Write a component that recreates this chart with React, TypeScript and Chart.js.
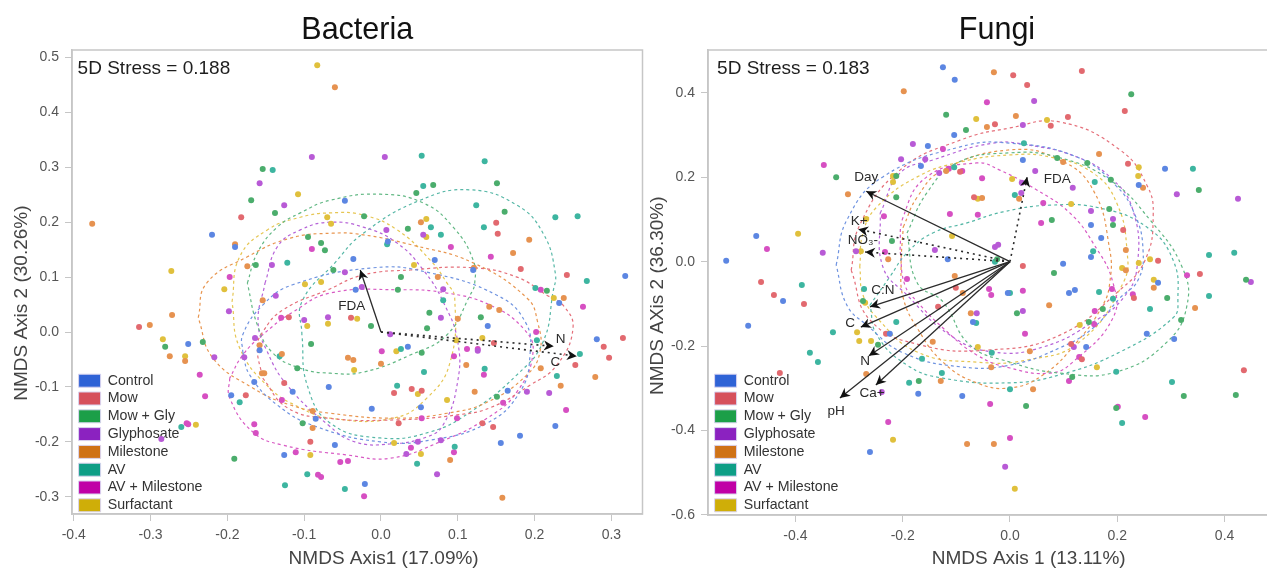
import React, { useEffect, useRef } from "react";
import { Chart, registerables } from "chart.js";

Chart.register(...registerables);

type P = number[];

const groupNames = ["Control", "Mow", "Mow + Gly", "Glyphosate", "Milestone", "AV", "AV + Milestone", "Surfactant"];
const legendColors = ["#2f63d6", "#d6505c", "#1c9f48", "#8b22c0", "#cf7216", "#0e9e86", "#c000a6", "#cfae08"];
const dotColors = ["#5c86e2", "#e2696f", "#4bad6c", "#b85ad6", "#e69250", "#3db5a0", "#d64fc2", "#e0c03c"];
const ringColors = ["#6f93e0", "#e56f7a", "#62b884", "#b663d8", "#e8954f", "#55b7a6", "#d85ac4", "#e6c653"];

const bacteriaControl: P[] = [[-0.22,0.177],[-0.19,0.155],[0.009,0.165],[-0.036,0.133],[0.07,0.131],[0.12,0.113],[0.318,0.102],[-0.047,0.239],[-0.251,-0.022],[-0.158,-0.033],[-0.165,-0.091],[-0.115,-0.109],[-0.195,-0.115],[-0.068,-0.1],[-0.085,-0.158],[-0.126,-0.224],[-0.033,0.077],[0.232,0.053],[0.139,0.011],[0.281,-0.013],[0.165,-0.107],[0.227,-0.171],[0.181,-0.189],[0.156,-0.202],[0.035,-0.027],[0.052,-0.137],[-0.012,-0.14],[-0.021,-0.277],[-0.06,-0.206]];
const bacteriaMow: P[] = [[-0.182,0.209],[0.15,0.199],[0.152,0.179],[0.182,0.115],[0.242,0.104],[-0.315,0.009],[-0.12,0.027],[-0.126,-0.093],[-0.176,-0.115],[-0.092,-0.2],[-0.039,0.026],[0.315,-0.011],[0.29,-0.027],[0.297,-0.047],[0.253,-0.06],[0.146,-0.173],[0.132,-0.166],[0.147,-0.02],[0.017,-0.111],[0.04,-0.104],[0.053,-0.107],[0.023,-0.166]];
const bacteriaMowGly: P[] = [[-0.154,0.297],[-0.169,0.24],[-0.138,0.217],[-0.095,0.173],[-0.078,0.162],[-0.073,0.149],[-0.163,0.122],[0.068,0.268],[0.151,0.271],[0.046,0.253],[0.161,0.219],[-0.022,0.211],[0.035,0.188],[-0.062,0.113],[0.026,0.1],[-0.281,-0.027],[-0.232,-0.018],[-0.191,-0.231],[-0.091,-0.022],[-0.109,-0.066],[-0.102,-0.166],[0.022,0.077],[0.13,0.027],[0.216,0.075],[0.063,0.035],[0.06,0.007],[-0.013,0.011],[0.151,-0.118],[0.053,-0.038]];
const bacteriaGlyphosate: P[] = [[-0.09,0.319],[-0.158,0.271],[-0.126,0.231],[-0.142,0.122],[0.005,0.319],[0.007,0.186],[0.055,0.177],[-0.047,0.109],[-0.137,0.066],[-0.198,0.038],[-0.1,0.022],[-0.069,0.027],[-0.164,-0.011],[-0.178,-0.046],[-0.217,-0.046],[-0.286,-0.195],[-0.025,0.082],[0.081,0.078],[0.078,0.026],[0.012,-0.004],[0.19,-0.109],[0.219,-0.111],[0.126,-0.034],[0.078,-0.197],[0.048,-0.2],[0.033,-0.222],[0.073,-0.259]];
const bacteriaMilestone: P[] = [[-0.376,0.197],[-0.06,0.446],[-0.19,0.16],[-0.174,0.12],[0.052,0.2],[0.193,0.168],[0.172,0.144],[0.121,0.117],[0.074,0.1],[-0.272,0.031],[-0.301,0.013],[-0.275,-0.044],[-0.255,-0.053],[-0.154,0.058],[-0.158,-0.024],[-0.129,-0.04],[-0.155,-0.075],[-0.152,-0.075],[-0.089,-0.144],[-0.089,-0.175],[0.141,0.046],[0.154,0.04],[0.238,0.062],[0.1,0.024],[0.279,-0.082],[0.208,-0.066],[0.234,-0.098],[0.122,-0.109],[0.111,-0.06],[0,-0.058],[-0.043,-0.047],[-0.036,-0.051],[0.09,-0.233],[0.158,-0.302]];
const bacteriaAV: P[] = [[-0.141,0.295],[-0.122,0.126],[0.053,0.321],[0.135,0.311],[0.055,0.266],[0.124,0.231],[0.227,0.209],[0.256,0.211],[0.065,0.191],[0.134,0.191],[0.008,0.16],[0.078,0.177],[0.268,0.093],[-0.26,-0.173],[-0.132,-0.044],[-0.184,-0.128],[-0.096,-0.259],[-0.125,-0.279],[0.081,0.058],[0.201,0.08],[0.203,-0.015],[0.259,-0.04],[0.229,-0.08],[0.135,-0.067],[0.026,-0.031],[0.056,-0.073],[0.021,-0.098],[0.096,-0.209],[0.047,-0.24],[-0.047,-0.286]];
const bacteriaAVMilestone: P[] = [[-0.09,0.151],[-0.197,0.1],[0.091,0.155],[0.143,0.137],[-0.13,0.026],[-0.236,-0.078],[-0.229,-0.117],[-0.253,-0.166],[-0.251,-0.168],[-0.129,-0.124],[-0.165,-0.168],[-0.163,-0.184],[-0.111,-0.219],[-0.082,-0.26],[-0.078,-0.264],[0.208,0.077],[0.263,0.046],[0.202,0],[0.241,-0.142],[0.159,-0.129],[0.134,-0.078],[0.112,-0.031],[0.126,-0.031],[0.095,-0.044],[0.001,-0.035],[0.053,-0.157],[0.099,-0.157],[0.039,-0.211],[0.095,-0.219],[-0.053,-0.237],[-0.043,-0.235],[-0.022,-0.299]];
const bacteriaSurfactant: P[] = [[-0.083,0.486],[-0.108,0.251],[-0.07,0.209],[-0.273,0.111],[-0.078,0.091],[-0.099,0.087],[-0.065,0.197],[0.059,0.206],[0.059,0.173],[0.043,0.122],[-0.284,-0.013],[-0.255,-0.044],[-0.241,-0.169],[-0.204,0.078],[-0.096,0.011],[-0.069,0.015],[-0.092,-0.224],[0.225,0.062],[-0.031,0.024],[0.132,-0.011],[0.098,-0.015],[0.02,-0.035],[-0.035,-0.069],[0.048,-0.113],[0.086,-0.124],[0.017,-0.202],[0.052,-0.222]];

const fungiControl: P[] = [[-0.125,0.461],[-0.103,0.431],[-0.104,0.3],[-0.153,0.274],[-0.166,0.227],[-0.473,0.061],[-0.529,0.002],[-0.116,0.006],[0.024,0.241],[0.289,0.22],[0.24,0.182],[0.151,0.087],[0.17,0.056],[0.151,0.011],[0.099,-0.005],[0.276,-0.05],[-0.423,-0.093],[-0.488,-0.152],[-0.224,-0.171],[-0.171,-0.313],[-0.089,-0.318],[-0.261,-0.451],[-0.004,-0.074],[0.11,-0.074],[0.121,-0.067],[-0.069,-0.143],[0.255,-0.171],[0.306,-0.183],[0.142,-0.202]];
const fungiMow: P[] = [[-0.093,0.213],[0.006,0.442],[0.032,0.419],[0.134,0.452],[0.214,0.357],[0.108,0.343],[0.076,0.322],[-0.028,0.326],[0.22,0.232],[-0.067,0.153],[0.211,0.075],[0.276,0.002],[0.024,-0.01],[0.354,-0.029],[-0.464,-0.048],[-0.44,-0.079],[-0.384,-0.1],[-0.429,-0.264],[-0.231,-0.171],[-0.134,-0.107],[-0.101,-0.062],[0.231,-0.086],[0.114,-0.195],[0.134,-0.231],[0.436,-0.257]];
const fungiMowGly: P[] = [[-0.119,0.348],[-0.082,0.312],[-0.324,0.2],[-0.212,0.203],[-0.212,0.153],[-0.22,0.049],[0.226,0.397],[0.088,0.246],[0.144,0.234],[0.188,0.194],[0.352,0.17],[0.185,0.125],[0.078,0.099],[0.192,0.087],[-0.024,0.006],[0.082,-0.027],[0.44,-0.043],[-0.274,-0.093],[-0.246,-0.197],[-0.17,-0.283],[0.293,-0.086],[0.013,-0.122],[0.173,-0.112],[0.319,-0.138],[0.147,-0.143],[0.116,-0.273],[0.324,-0.318],[0.421,-0.316],[0.03,-0.342],[0.198,-0.347]];
const fungiGlyphosate: P[] = [[-0.181,0.279],[-0.203,0.243],[-0.158,0.243],[-0.132,0.21],[-0.349,0.021],[-0.287,0.025],[-0.14,0.028],[0.024,0.324],[0.045,0.381],[0.047,0.215],[0.022,0.187],[0.021,0.163],[0.117,0.175],[0.311,0.16],[0.425,0.149],[0.151,0.12],[0.192,0.101],[-0.028,0.035],[-0.022,0.04],[0.449,-0.048],[-0.239,-0.309],[0.024,-0.117],[-0.062,-0.122],[0.119,-0.202],[-0.009,-0.486]];
const fungiMilestone: P[] = [[-0.198,0.404],[-0.119,0.215],[-0.302,0.16],[-0.227,0.006],[-0.103,-0.034],[-0.03,0.449],[0.011,0.345],[-0.043,0.319],[0.166,0.255],[0.099,0.236],[0.248,0.175],[0.017,0.149],[-0.052,0.151],[0.216,0.028],[0.216,-0.02],[-0.088,-0.074],[-0.144,-0.19],[-0.129,-0.283],[-0.268,-0.266],[-0.08,-0.432],[0.268,-0.062],[0.345,-0.11],[0.073,-0.103],[-0.073,-0.122],[0.037,-0.212],[-0.035,-0.25],[0.043,-0.302],[-0.03,-0.432]];
const fungiAV: P[] = [[-0.104,0.224],[-0.388,-0.055],[0.026,0.281],[0.341,0.22],[0.158,0.189],[0.009,0.158],[0.155,0.025],[0.371,0.016],[0.418,0.021],[-0.272,-0.065],[-0.33,-0.167],[-0.373,-0.216],[-0.358,-0.238],[-0.212,-0.143],[-0.164,-0.23],[-0.127,-0.264],[-0.188,-0.287],[0,-0.074],[0.166,-0.072],[0.192,-0.088],[0.371,-0.081],[0.261,-0.112],[-0.063,-0.145],[-0.034,-0.216],[0.198,-0.261],[0.302,-0.285],[0,-0.302],[0.209,-0.382],[-0.028,0]];
const fungiAVMilestone: P[] = [[-0.125,0.267],[-0.347,0.229],[-0.114,0.22],[-0.089,0.215],[-0.235,0.108],[-0.112,0.113],[-0.453,0.03],[-0.233,0.023],[-0.192,-0.041],[-0.043,0.378],[-0.052,0.198],[0.062,0.139],[-0.06,0.111],[0.058,0.092],[0.33,-0.032],[-0.227,-0.38],[-0.039,-0.065],[-0.035,-0.079],[0.024,-0.069],[0.19,-0.065],[0.229,-0.077],[0.158,-0.117],[0.157,-0.148],[0.028,-0.171],[0.129,-0.226],[0.11,-0.283],[-0.037,-0.337],[0.201,-0.344],[0.252,-0.368],[0,-0.418]];
const fungiSurfactant: P[] = [[-0.218,0.203],[-0.218,0.189],[-0.268,0.101],[-0.395,0.066],[-0.278,0.025],[-0.108,0.061],[-0.063,0.338],[0.069,0.336],[0.24,0.224],[0.239,0.203],[0.004,0.196],[-0.06,0.149],[0.114,0.137],[0.261,0.006],[0.24,-0.003],[0.209,-0.015],[0.268,-0.043],[-0.27,-0.097],[-0.285,-0.167],[-0.281,-0.188],[-0.259,-0.188],[-0.218,-0.422],[0.13,-0.15],[-0.06,-0.202],[0.162,-0.25],[0.009,-0.538]];

// Outlines of the dashed group ellipses.
const bacteriaRingControl: P[] = [[-0.18,-0.036],[-0.171,-0.078],[-0.135,-0.133],[-0.083,-0.173],[-0.001,-0.2],[0.064,-0.197],[0.138,-0.166],[0.181,-0.109],[0.194,-0.042],[0.188,0.018],[0.151,0.067],[0.06,0.109],[-0.01,0.117],[-0.115,0.086],[-0.154,0.049],[-0.18,-0.005]];
const bacteriaRingMow: P[] = [[-0.154,-0.084],[-0.122,-0.138],[-0.069,-0.157],[0.021,-0.16],[0.099,-0.151],[0.142,-0.138],[0.194,-0.097],[0.229,-0.06],[0.25,0.007],[0.237,0.049],[0.216,0.067],[0.177,0.1],[0.12,0.117],[0.038,0.113],[-0.023,0.104],[-0.069,0.077],[-0.128,0.04],[-0.154,0],[-0.161,-0.029]];
const bacteriaRingMowGly: P[] = [[-0.174,0.089],[-0.161,0.144],[-0.135,0.191],[-0.105,0.217],[-0.066,0.24],[-0.001,0.251],[0.055,0.235],[0.094,0.191],[0.12,0.131],[0.122,0.089],[0.116,0.067],[0.086,-0.005],[0.038,-0.042],[-0.023,-0.073],[-0.066,-0.075],[-0.105,-0.066],[-0.141,-0.038],[-0.161,0.013]];
const bacteriaRingGlyphosate: P[] = [[-0.151,0.089],[-0.135,0.155],[-0.105,0.186],[-0.066,0.2],[-0.023,0.191],[0.021,0.162],[0.055,0.113],[0.081,0.055],[0.1,-0.018],[0.099,-0.097],[0.081,-0.169],[0.06,-0.191],[0.012,-0.204],[-0.034,-0.2],[-0.069,-0.169],[-0.122,-0.097],[-0.148,-0.036],[-0.16,0.018]];
const bacteriaRingMilestone: P[] = [[-0.238,0.026],[-0.227,0.089],[-0.174,0.137],[-0.118,0.171],[-0.063,0.18],[-0.023,0.177],[0.042,0.158],[0.12,0.126],[0.19,0.062],[0.204,0.018],[0.207,-0.036],[0.19,-0.078],[0.138,-0.128],[0.086,-0.148],[0.021,-0.157],[-0.066,-0.148],[-0.118,-0.133],[-0.167,-0.102],[-0.219,-0.047]];
const bacteriaRingAV: P[] = [[-0.103,-0.005],[-0.103,0.055],[-0.06,0.126],[-0.023,0.18],[0.051,0.24],[0.116,0.259],[0.177,0.231],[0.211,0.18],[0.227,0.107],[0.224,0.073],[0.211,-0.018],[0.177,-0.078],[0.116,-0.146],[0.064,-0.182],[-0.001,-0.193],[-0.066,-0.166],[-0.096,-0.097]];
const bacteriaRingAVMilestone: P[] = [[-0.197,-0.084],[-0.197,-0.12],[-0.167,-0.182],[-0.128,-0.206],[-0.044,-0.224],[0.012,-0.23],[0.077,-0.2],[0.138,-0.157],[0.177,-0.109],[0.198,-0.036],[0.185,0.007],[0.142,0.049],[0.086,0.071],[0.021,0.077],[-0.066,0.071],[-0.115,0.036],[-0.154,-0.005],[-0.18,-0.042]];
const bacteriaRingSurfactant: P[] = [[-0.194,0.055],[-0.184,0.137],[-0.148,0.186],[-0.105,0.209],[-0.066,0.217],[-0.023,0.213],[0.021,0.186],[0.064,0.131],[0.086,0.089],[0.096,0.062],[0.09,-0.055],[0.06,-0.12],[0.016,-0.157],[-0.066,-0.157],[-0.105,-0.138],[-0.145,-0.102],[-0.184,-0.029]];

const fungiRingControl: P[] = [[-0.324,-0.008],[-0.304,0.099],[-0.237,0.201],[-0.093,0.272],[0,0.281],[0.125,0.248],[0.196,0.182],[0.233,0.111],[0.248,0.028],[0.239,-0.043],[0.205,-0.086],[0.155,-0.157],[0.093,-0.204],[0,-0.245],[-0.093,-0.249],[-0.199,-0.216],[-0.267,-0.15],[-0.304,-0.103]];
const fungiRingMow: P[] = [[-0.296,-0.02],[-0.28,0.087],[-0.205,0.217],[-0.093,0.288],[0,0.317],[0.093,0.331],[0.205,0.265],[0.255,0.182],[0.267,0.111],[0.252,0.004],[0.205,-0.067],[0.093,-0.174],[-0.037,-0.209],[-0.168,-0.197],[-0.261,-0.138]];
const fungiRingMowGly: P[] = [[-0.192,0.068],[-0.155,0.163],[-0.099,0.234],[0,0.258],[0.088,0.248],[0.186,0.194],[0.261,0.099],[0.321,-0.013],[0.33,-0.103],[0.293,-0.19],[0.199,-0.261],[0.093,-0.264],[0,-0.238],[-0.075,-0.197],[-0.125,-0.095],[-0.173,-0.05]];
const fungiRingGlyphosate: P[] = [[-0.242,0.115],[-0.205,0.21],[-0.144,0.241],[-0.032,0.281],[0.032,0.277],[0.125,0.248],[0.186,0.201],[0.229,0.123],[0.237,-0.012],[0.211,-0.086],[0.155,-0.143],[0.062,-0.202],[-0.032,-0.214],[-0.112,-0.174],[-0.192,-0.079],[-0.237,-0.012]];
const fungiRingMilestone: P[] = [[-0.199,0.082],[-0.173,0.153],[-0.125,0.217],[0,0.265],[0.093,0.241],[0.155,0.17],[0.186,0.028],[0.186,-0.05],[0.173,-0.103],[0.125,-0.19],[0.062,-0.268],[0,-0.299],[-0.062,-0.287],[-0.125,-0.238],[-0.173,-0.157],[-0.199,-0.086],[-0.203,-0.012]];
const fungiRingAV: P[] = [[-0.261,-0.103],[-0.224,-0.036],[-0.192,0.021],[-0.144,0.068],[-0.08,0.092],[-0.013,0.118],[0.075,0.134],[0.168,0.127],[0.255,0.082],[0.304,0.004],[0.313,-0.091],[0.304,-0.133],[0.205,-0.214],[0.093,-0.268],[0,-0.287],[-0.125,-0.276],[-0.192,-0.245],[-0.248,-0.174]];
const fungiRingAVMilestone: P[] = [[-0.205,0.028],[-0.199,0.106],[-0.155,0.201],[-0.062,0.234],[-0.019,0.217],[0.05,0.17],[0.112,0.115],[0.155,0.044],[0.192,-0.05],[0.192,-0.133],[0.117,-0.238],[0.075,-0.264],[0,-0.252],[-0.062,-0.221],[-0.125,-0.157],[-0.173,-0.095],[-0.196,-0.055]];
const fungiRingSurfactant: P[] = [[-0.28,-0.012],[-0.274,0.068],[-0.248,0.13],[-0.173,0.201],[-0.093,0.236],[0,0.253],[0.075,0.248],[0.155,0.21],[0.199,0.139],[0.218,0.028],[0.211,-0.05],[0.13,-0.19],[0.032,-0.233],[-0.062,-0.238],[-0.173,-0.214],[-0.248,-0.133],[-0.274,-0.079]];

// Fitted vectors: name, tip x, tip y, dotted?, label x, label y
type Vec = [string, number, number, boolean, number, number];
const bacteriaVectors: Vec[] = [
  ["FDA", -0.027, 0.113, false, -0.038, 0.047],
  ["N", 0.225, -0.026, true, 0.234, -0.013],
  ["C", 0.255, -0.044, true, 0.227, -0.056],
];
const fungiVectors: Vec[] = [
  ["Day", -0.268, 0.167, false, -0.268, 0.201],
  ["K+", -0.283, 0.077, true, -0.281, 0.096],
  ["NO₃-", -0.27, 0.023, true, -0.274, 0.051],
  ["C:N", -0.261, -0.107, false, -0.237, -0.067],
  ["C", -0.278, -0.155, false, -0.298, -0.145],
  ["N", -0.263, -0.223, false, -0.27, -0.235],
  ["pH", -0.317, -0.323, false, -0.324, -0.354],
  ["Ca+", -0.25, -0.292, false, -0.257, -0.313],
  ["FDA", 0.032, 0.201, true, 0.088, 0.196],
];

const FONT = "'Liberation Sans', Arial, sans-serif";

const annotate = {
  id: "annotate",
  afterLayout(chart: any) {
    const { legend, titleBlock, chartArea: a } = chart;
    titleBlock.left = a.left;
    titleBlock.right = a.right;
    legend.left = a.left + 3;
    legend.right = a.right;
    legend.top = a.top + chart.options.plugins.annotate.legendTop;
    legend.bottom = a.bottom + 60;
  },
  afterDatasetsDraw(chart: any) {
    const o = chart.options.plugins.annotate;
    const { ctx, chartArea: a, scales } = chart;
    ctx.save();
    ctx.strokeStyle = "#c6c6c6";
    ctx.lineWidth = 1.5;
    ctx.strokeRect(a.left, a.top, a.right - a.left, a.bottom - a.top);
    ctx.textBaseline = "middle";
    for (const v of o.vectors as Vec[]) {
      const x0 = scales.x.getPixelForValue(0);
      const y0 = scales.y.getPixelForValue(0);
      const x1 = scales.x.getPixelForValue(v[1]);
      const y1 = scales.y.getPixelForValue(v[2]);
      const ang = Math.atan2(y1 - y0, x1 - x0);
      ctx.save();
      ctx.translate(x1, y1);
      ctx.rotate(ang);
      ctx.fillStyle = "#111";
      ctx.beginPath();
      ctx.moveTo(0, 0);
      ctx.lineTo(-10, -5);
      ctx.lineTo(-7, 0);
      ctx.lineTo(-10, 5);
      ctx.closePath();
      ctx.fill();
      ctx.restore();
      ctx.fillStyle = "#2a2a2a";
      ctx.font = `13.5px ${FONT}`;
      ctx.textAlign = "center";
      ctx.fillText(v[0], scales.x.getPixelForValue(v[4]), scales.y.getPixelForValue(v[5]));
    }
    ctx.fillStyle = "#1e1e1e";
    ctx.font = `19px ${FONT}`;
    ctx.textAlign = "left";
    ctx.fillText(o.note[0], scales.x.getPixelForValue(o.note[1]), scales.y.getPixelForValue(o.note[2]));
    ctx.restore();
  },
};

function buildConfig(c: any) {
  const scatter = c.points.map((pts: P[], i: number) => ({
    label: groupNames[i],
    data: pts.map((p) => ({ x: p[0], y: p[1] })),
    backgroundColor: dotColors[i],
    pointRadius: 3,
    pointBorderWidth: 0,
    showLine: false,
    order: 1,
  }));
  const rings = c.rings.map((pts: P[], i: number) => ({
    label: groupNames[i] + " ellipse",
    data: [...pts, pts[0]].map((p) => ({ x: p[0], y: p[1] })),
    borderColor: ringColors[i],
    borderWidth: 1.2,
    borderDash: [3, 3],
    tension: 0.45,
    showLine: true,
    pointRadius: 0,
    order: 3,
  }));
  const arrows = c.vectors.map((v: Vec) => ({
    label: v[0],
    data: [{ x: 0, y: 0 }, { x: v[1], y: v[2] }],
    borderColor: "#2b2b2b",
    borderWidth: v[3] ? 1.6 : 1.3,
    borderDash: v[3] ? [2, 4] : [],
    showLine: true,
    pointRadius: 0,
    order: 0,
  }));
  const axis = (over: any) => ({
    type: "linear",
    border: { color: "#c6c6c6", width: 1.5 },
    grid: { drawOnChartArea: false, tickLength: 7, tickColor: "#c6c6c6", tickWidth: 1 },
    ...over,
  });
  const tick = (step: number) => ({
    stepSize: step,
    includeBounds: false,
    autoSkip: false,
    maxRotation: 0,
    color: "#555",
    font: { family: FONT, size: 14 },
    padding: 6,
    callback: (v: number) => (Math.abs(v) < 1e-9 ? "0.0" : Number(v).toFixed(1)),
  });
  return {
    type: "scatter",
    data: { datasets: [...arrows, ...scatter, ...rings] },
    plugins: [annotate],
    options: {
      animation: false,
      responsive: false,
      events: [],
      layout: { padding: { right: c.padRight, top: 0, left: 0, bottom: 0 } },
      plugins: {
        title: {
          display: true,
          text: c.title,
          color: "#111",
          font: { family: FONT, size: 30.5, weight: "normal" },
          padding: { top: 12, bottom: c.titleBottom },
        },
        tooltip: { enabled: false },
        legend: {
          display: true,
          position: "chartArea",
          align: "start",
          labels: {
            boxWidth: 22,
            boxHeight: 13,
            padding: 3.6,
            color: "#333",
            font: { family: FONT, size: 14.2 },
            generateLabels: () =>
              groupNames.map((n, i) => ({
                text: n,
                fillStyle: legendColors[i],
                strokeStyle: "#d9d4f0",
                lineWidth: 1,
                fontColor: "#333",
                datasetIndex: i,
                hidden: false,
              })),
          },
        },
        annotate: { vectors: c.vectors, note: c.note, legendTop: c.legendTop },
      },
      scales: {
        x: axis({
          min: c.xRange[0],
          max: c.xRange[1],
          ticks: tick(c.xStep),
          title: { display: true, text: c.xTitle, color: "#444", font: { family: FONT, size: 19 }, padding: { top: 0, bottom: 0 } },
          afterFit: (s: any) => { s.height = c.xHeight; },
        }),
        y: axis({
          min: c.yRange[0],
          max: c.yRange[1],
          ticks: tick(c.yStep),
          title: { display: true, text: c.yTitle, color: "#444", font: { family: FONT, size: 19 }, padding: { top: c.yTitlePad, bottom: 0 } },
          afterFit: (s: any) => { s.width = c.yWidth; },
        }),
      },
    },
  };
}

const bacteria = {
  title: "Bacteria",
  points: [bacteriaControl, bacteriaMow, bacteriaMowGly, bacteriaGlyphosate, bacteriaMilestone, bacteriaAV, bacteriaAVMilestone, bacteriaSurfactant],
  rings: [bacteriaRingControl, bacteriaRingMow, bacteriaRingMowGly, bacteriaRingGlyphosate, bacteriaRingMilestone, bacteriaRingAV, bacteriaRingAVMilestone, bacteriaRingSurfactant],
  vectors: bacteriaVectors,
  note: ["5D Stress = 0.188", -0.395, 0.479],
  xRange: [-0.4023, 0.3405],
  yRange: [-0.3315, 0.5137],
  xStep: 0.1,
  yStep: 0.1,
  xTitle: "          NMDS Axis1 (17.09%)",
  yTitle: "NMDS Axis 2 (30.26%)        ",
  padRight: 71.5,
  xHeight: 56,
  yWidth: 72,
  yTitlePad: 10,
  titleBottom: 1.4,
  legendTop: 320,
};

const fungi = {
  title: "Fungi",
  points: [fungiControl, fungiMow, fungiMowGly, fungiGlyphosate, fungiMilestone, fungiAV, fungiAVMilestone, fungiSurfactant],
  rings: [fungiRingControl, fungiRingMow, fungiRingMowGly, fungiRingGlyphosate, fungiRingMilestone, fungiRingAV, fungiRingAVMilestone, fungiRingSurfactant],
  vectors: fungiVectors,
  note: ["5D Stress = 0.183", -0.546, 0.457],
  xRange: [-0.5629, 0.5145],
  yRange: [-0.6003, 0.5017],
  xStep: 0.2,
  yStep: 0.2,
  xTitle: "            NMDS Axis 1 (13.11%)",
  yTitle: "NMDS AXis 2 (36.30%)     ",
  padRight: 88,
  xHeight: 55,
  yWidth: 88,
  yTitlePad: 26.6,
  titleBottom: 1.4,
  legendTop: 320,
};

function Panel({ cfg, left, width }: { cfg: any; left: number; width: number }) {
  const ref = useRef<HTMLCanvasElement | null>(null);
  useEffect(() => {
    const chart = new Chart(ref.current as any, buildConfig(cfg) as any);
    return () => chart.destroy();
  }, [cfg]);
  return (
    <canvas
      ref={ref}
      width={width}
      height={570}
      style={{ position: "absolute", left, top: 0, width, height: 570, filter: "blur(0.5px)" }}
    />
  );
}

export default function App() {
  return (
    <div style={{ position: "fixed", left: 0, top: 0, width: 1267, height: 570, overflow: "hidden", background: "#fff" }}>
      <Panel cfg={bacteria} left={0} width={714} />
      <Panel cfg={fungi} left={620} width={754} />
    </div>
  );
}
